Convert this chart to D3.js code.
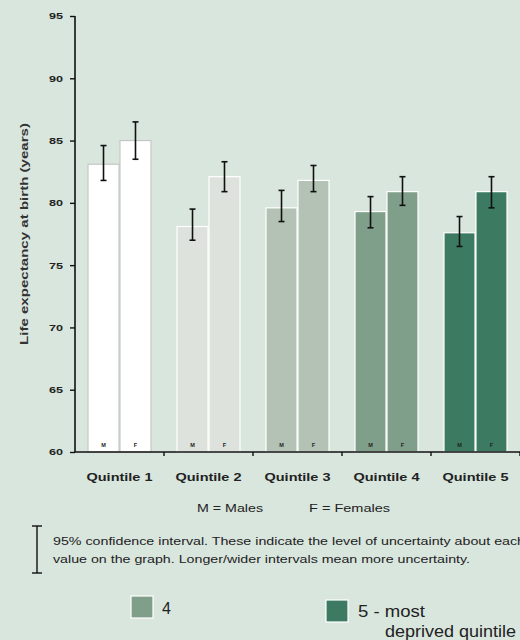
<!DOCTYPE html>
<html><head><meta charset="utf-8">
<script src="https://cdn.jsdelivr.net/npm/d3@7"></script>
<style>body{margin:0;background:#d9e6dd;} svg{display:block;}</style>
</head><body>
<svg id="c" width="520" height="640"></svg>
<script>
const quintiles = ["Quintile 1","Quintile 2","Quintile 3","Quintile 4","Quintile 5"];
const sexes = ["M","F"];
const maleValues   = [83.1, 78.1, 79.6, 79.3, 77.6];
const maleLow      = [81.8, 77.0, 78.5, 78.0, 76.5];
const maleHigh     = [84.6, 79.5, 81.0, 80.5, 78.9];
const femaleValues = [85.0, 82.1, 81.8, 80.9, 80.9];
const femaleLow    = [83.5, 80.9, 80.9, 79.8, 79.6];
const femaleHigh   = [86.5, 83.3, 83.0, 82.1, 82.1];
const yTicks = [60, 65, 70, 75, 80, 85, 90, 95];
const fills   = ["#ffffff", "#dde2dc", "#b3c2b5", "#7f9f8b", "#3c7b62"];
const strokes = ["#c4c8c4", "#ffffff", "#ffffff", "#ffffff", "#ffffff"];

const svg = d3.select("#c");
const font = "'Liberation Sans', Arial, sans-serif";
svg.append("rect").attr("width",520).attr("height",640).attr("fill","#d9e6dd");

const y = d3.scaleLinear().domain([60,95]).range([452,16]);
const x = d3.scaleBand().domain(quintiles).range([75,520]);
const xs = d3.scaleBand().domain(sexes).range([13,76]).paddingInner(0.03);

const data = [];
quintiles.forEach((q,i)=>{
  data.push({q,i,s:"M",v:maleValues[i],lo:maleLow[i],hi:maleHigh[i]});
  data.push({q,i,s:"F",v:femaleValues[i],lo:femaleLow[i],hi:femaleHigh[i]});
});

const g = svg.append("g");
g.selectAll("rect.bar").data(data).join("rect").attr("class","bar")
  .attr("x",d=>x(d.q)+xs(d.s)).attr("width",xs.bandwidth())
  .attr("y",d=>y(d.v)).attr("height",d=>y(60)-y(d.v))
  .attr("fill",d=>fills[d.i]).attr("stroke",d=>strokes[d.i]).attr("stroke-width",1.2);

g.selectAll("text.sx").data(data).join("text").attr("class","sx")
  .attr("x",d=>x(d.q)+xs(d.s)+xs.bandwidth()/2).attr("y",447)
  .attr("text-anchor","middle").attr("font-family",font).attr("font-weight","bold")
  .attr("font-size",5.5).attr("fill","#222").text(d=>d.s);

// error bars
const eb = g.selectAll("g.eb").data(data).join("g").attr("class","eb")
  .attr("stroke","#111").attr("stroke-width",1.6);
const cx = d=>x(d.q)+xs(d.s)+xs.bandwidth()/2;
eb.append("line").attr("x1",cx).attr("x2",cx).attr("y1",d=>y(d.hi)).attr("y2",d=>y(d.lo));
eb.append("line").attr("x1",d=>cx(d)-3).attr("x2",d=>cx(d)+3).attr("y1",d=>y(d.hi)).attr("y2",d=>y(d.hi));
eb.append("line").attr("x1",d=>cx(d)-3).attr("x2",d=>cx(d)+3).attr("y1",d=>y(d.lo)).attr("y2",d=>y(d.lo));

// y axis
const ya = svg.append("g").attr("transform","translate(75,0)")
  .call(d3.axisLeft(y).tickValues(yTicks).tickSize(5).tickPadding(7).tickFormat(d3.format("d")));
ya.select(".domain").attr("stroke","#111").attr("stroke-width",1.6).attr("d","M0,16V452");
ya.selectAll(".tick line").attr("stroke","#111").attr("stroke-width",1.4);
ya.selectAll(".tick text").attr("font-family",font).attr("font-weight","bold")
  .attr("font-size",9).attr("fill","#222").attr("textLength",14).attr("lengthAdjust","spacingAndGlyphs");

// x axis
svg.append("line").attr("x1",75).attr("x2",520).attr("y1",452).attr("y2",452)
  .attr("stroke","#111").attr("stroke-width",1.6);
svg.selectAll("line.xt").data(quintiles).join("line").attr("class","xt")
  .attr("x1",d=>x(d)+x.bandwidth()).attr("x2",d=>x(d)+x.bandwidth())
  .attr("y1",452).attr("y2",456).attr("stroke","#111").attr("stroke-width",1.4);
svg.selectAll("text.xl").data(quintiles).join("text").attr("class","xl")
  .attr("x",d=>x(d)+xs("M")+(xs("F")+xs.bandwidth()-xs("M"))/2 - 33).attr("y",481)
  .attr("font-family",font).attr("font-weight","bold")
  .attr("font-size",10.5).attr("fill","#222")
  .attr("textLength",66).attr("lengthAdjust","spacingAndGlyphs").text(d=>d);

// y label
svg.append("text").attr("transform","translate(28,345) rotate(-90)")
  .attr("font-family",font).attr("font-weight","bold")
  .attr("font-size",10.5).attr("fill","#333")
  .attr("textLength",222).attr("lengthAdjust","spacingAndGlyphs")
  .text("Life expectancy at birth (years)");

// M/F key
svg.append("text").attr("x",197).attr("y",512).attr("font-family",font)
  .attr("font-size",10).attr("fill","#222")
  .attr("textLength",66).attr("lengthAdjust","spacingAndGlyphs").text("M = Males");
svg.append("text").attr("x",309).attr("y",512).attr("font-family",font)
  .attr("font-size",10).attr("fill","#222")
  .attr("textLength",81).attr("lengthAdjust","spacingAndGlyphs").text("F = Females");

// CI key
const ci = svg.append("g").attr("stroke","#111").attr("stroke-width",1.4);
ci.append("line").attr("x1",37).attr("x2",37).attr("y1",526).attr("y2",573);
ci.append("line").attr("x1",32).attr("x2",42).attr("y1",526).attr("y2",526);
ci.append("line").attr("x1",32).attr("x2",42).attr("y1",573).attr("y2",573);
svg.append("text").attr("x",53).attr("y",545).attr("font-family",font)
  .attr("font-size",10).attr("fill","#222")
  .attr("textLength",472).attr("lengthAdjust","spacingAndGlyphs")
  .text("95% confidence interval. These indicate the level of uncertainty about each");
svg.append("text").attr("x",53).attr("y",563).attr("font-family",font)
  .attr("font-size",10).attr("fill","#222")
  .attr("textLength",417).attr("lengthAdjust","spacingAndGlyphs")
  .text("value on the graph. Longer/wider intervals mean more uncertainty.");

// bottom legend
svg.append("rect").attr("x",131).attr("y",596).attr("width",22).attr("height",22)
  .attr("fill",fills[3]).attr("stroke","#fff").attr("stroke-width",1.2);
svg.append("text").attr("x",162).attr("y",614).attr("font-family",font)
  .attr("font-size",16).attr("fill","#222").text("4");
svg.append("rect").attr("x",326).attr("y",600).attr("width",22).attr("height",22)
  .attr("fill",fills[4]).attr("stroke","#fff").attr("stroke-width",1.2);
svg.append("text").attr("x",358).attr("y",617).attr("font-family",font)
  .attr("font-size",16).attr("fill","#222")
  .attr("textLength",67).attr("lengthAdjust","spacingAndGlyphs").text("5 - most");
svg.append("text").attr("x",385).attr("y",637).attr("font-family",font)
  .attr("font-size",16).attr("fill","#222")
  .attr("textLength",131).attr("lengthAdjust","spacingAndGlyphs").text("deprived quintile");
</script>
</body></html>
